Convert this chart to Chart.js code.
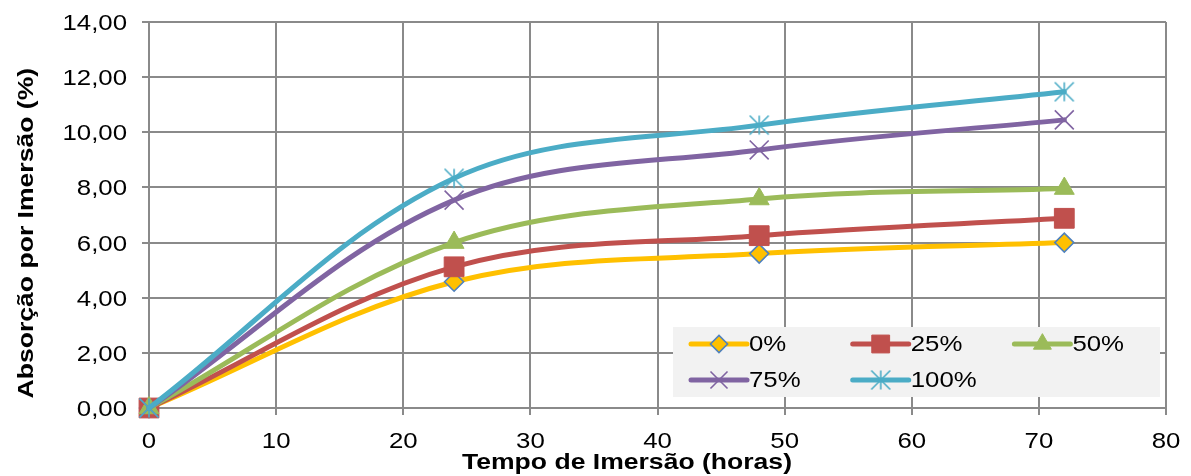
<!DOCTYPE html>
<html>
<head>
<meta charset="utf-8">
<script src="https://cdn.jsdelivr.net/npm/chart.js@4.4.0/dist/chart.umd.min.js"></script>
<style>
  html, body { margin: 0; padding: 0; background: #ffffff; }
  #wrap { width: 1191px; height: 476px; position: relative; }
</style>
</head>
<body>
<div id="wrap"><canvas id="c"></canvas></div>
<script>
// Immersion time (hours) and water absorption (%) for each replacement level
const hours = [0, 24, 48, 72];
const seriesNames = ['0%', '25%', '50%', '75%', '100%'];
const abs0   = [0, 4.58, 5.60, 6.00];
const abs25  = [0, 5.12, 6.25, 6.88];
const abs50  = [0, 6.00, 7.58, 7.96];
const abs75  = [0, 7.54, 9.36, 10.45];
const abs100 = [0, 8.33, 10.26, 11.47];

// Axis tick labels
const xTickLabels = ['0', '10', '20', '30', '40', '50', '60', '70', '80'];
const yTickLabels = ['0,00', '2,00', '4,00', '6,00', '8,00', '10,00', '12,00', '14,00'];

const xTitle = 'Tempo de Imersão (horas)';
const yTitle = 'Absorção por Imersão (%)';

const FONT = '"Liberation Sans", Arial, sans-serif';
const GRID = '#8a8a8a';
const STRETCH = 1.2;
const LINE_W = 5;

// Asterisk-style marker: vertical bar plus a diagonal cross
function starMarker(color) {
  const c = document.createElement('canvas');
  c.width = 24; c.height = 24;
  const g = c.getContext('2d');
  g.strokeStyle = color;
  g.lineWidth = 1.6;
  g.beginPath();
  g.moveTo(12, 2.5); g.lineTo(12, 21.5);
  g.moveTo(2.5, 2.5); g.lineTo(21.5, 21.5);
  g.moveTo(21.5, 2.5); g.lineTo(2.5, 21.5);
  g.stroke();
  return c;
}

const styles = [
  { color: '#FFC000', point: 'rectRot', radius: 9.5, fill: '#FFC000', border: '#4F81BD', bw: 1.6 },
  { color: '#C0504D', point: 'rect', radius: 14, fill: '#C0504D', border: '#C0504D', bw: 1 },
  { color: '#9BBB59', point: 'triangle', radius: 11.5, fill: '#9BBB59', border: '#9BBB59', bw: 1 },
  { color: '#8064A2', point: 'crossRot', radius: 13.4, fill: '#8064A2', border: '#8064A2', bw: 1.6 },
  { color: '#4BACC6', point: starMarker('#4BACC6'), radius: 10, fill: '#4BACC6', border: '#4BACC6', bw: 1.6 }
];

const values = [abs0, abs25, abs50, abs75, abs100];

const datasets = values.map((arr, i) => ({
  label: seriesNames[i],
  data: hours.map((h, j) => ({ x: h, y: arr[j] })),
  borderColor: styles[i].color,
  borderWidth: LINE_W,
  borderCapStyle: 'round',
  borderJoinStyle: 'round',
  tension: 0.35,
  fill: false,
  pointStyle: styles[i].point,
  pointRadius: styles[i].radius,
  pointHoverRadius: styles[i].radius,
  pointBackgroundColor: styles[i].fill,
  pointBorderColor: styles[i].border,
  pointBorderWidth: styles[i].bw,
  order: values.length - i,
  clip: false
}));

function stretchedText(ctx, text, x, y, align, sx) {
  ctx.save();
  ctx.translate(x, y);
  ctx.scale(sx, 1);
  ctx.textAlign = align;
  ctx.fillText(text, 0, 0);
  ctx.restore();
}

const textAndLegend = {
  id: 'textAndLegend',
  afterDraw(chart) {
    const { ctx, chartArea: a, scales } = chart;
    const xs = scales.x, ys = scales.y;
    ctx.save();
    ctx.fillStyle = '#000000';
    ctx.textBaseline = 'alphabetic';

    // tick labels
    ctx.font = '21.5px ' + FONT;
    ys.ticks.forEach((t, i) => {
      const py = ys.getPixelForValue(t.value);
      stretchedText(ctx, yTickLabels[i] ?? String(t.value), a.left - 22, py + 8, 'right', STRETCH);
    });
    xs.ticks.forEach((t, i) => {
      const px = xs.getPixelForValue(t.value);
      stretchedText(ctx, xTickLabels[i] ?? String(t.value), px, a.bottom + 40, 'center', STRETCH);
    });

    // axis titles
    ctx.font = 'bold 22.5px ' + FONT;
    stretchedText(ctx, xTitle, a.left + 0.47 * (a.right - a.left), a.bottom + 61, 'center', 1.18);
    ctx.save();
    ctx.translate(33, a.top + 0.547 * (a.bottom - a.top));
    ctx.rotate(-Math.PI / 2);
    ctx.scale(1.18, 1);
    ctx.textAlign = 'center';
    ctx.fillText(yTitle, 0, 0);
    ctx.restore();

    // legend box
    const bw = 487, bh = 70;
    const bx = a.right - 6 - bw, by = a.bottom - 11 - bh;
    ctx.fillStyle = '#F2F2F2';
    ctx.fillRect(bx, by, bw, bh);
    ctx.font = '21.5px ' + FONT;
    datasets.forEach((ds, i) => {
      const col = i % 3, row = Math.floor(i / 3);
      const x0 = bx + 18 + col * 161.7;
      const yy = by + 17 + row * 36;
      const s = styles[i];
      ctx.strokeStyle = s.color;
      ctx.lineWidth = LINE_W;
      ctx.lineCap = 'round';
      ctx.beginPath();
      ctx.moveTo(x0, yy);
      ctx.lineTo(x0 + 56, yy);
      ctx.stroke();
      ctx.lineCap = 'butt';
      ctx.fillStyle = s.fill;
      ctx.strokeStyle = s.border;
      ctx.lineWidth = s.bw;
      Chart.helpers.drawPoint(ctx, { pointStyle: s.point, radius: s.radius * 0.9, rotation: 0, borderWidth: s.bw }, x0 + 28, yy);
      ctx.fillStyle = '#000000';
      stretchedText(ctx, ds.label, x0 + 58, yy + 7, 'left', STRETCH);
    });
    ctx.restore();
  }
};

new Chart(document.getElementById('c'), {
  type: 'line',
  data: { datasets },
  options: {
    responsive: true,
    maintainAspectRatio: false,
    animation: false,
    devicePixelRatio: 1,
    layout: { padding: { top: 22, right: 25, left: 0, bottom: 0 } },
    plugins: { legend: { display: false }, tooltip: { enabled: false } },
    scales: {
      x: {
        type: 'linear',
        min: 0, max: 80,
        ticks: { stepSize: 10, display: false },
        grid: { color: GRID, lineWidth: 2, drawTicks: true, tickLength: 7, tickColor: GRID },
        border: { color: GRID, width: 2 },
        afterFit(scale) { scale.height = 68; }
      },
      y: {
        type: 'linear',
        min: 0, max: 14,
        ticks: { stepSize: 2, display: false },
        grid: { color: GRID, lineWidth: 2, drawTicks: true, tickLength: 7, tickColor: GRID },
        border: { color: GRID, width: 2 },
        afterFit(scale) { scale.width = 149; }
      }
    }
  },
  plugins: [textAndLegend]
});
</script>
</body>
</html>
